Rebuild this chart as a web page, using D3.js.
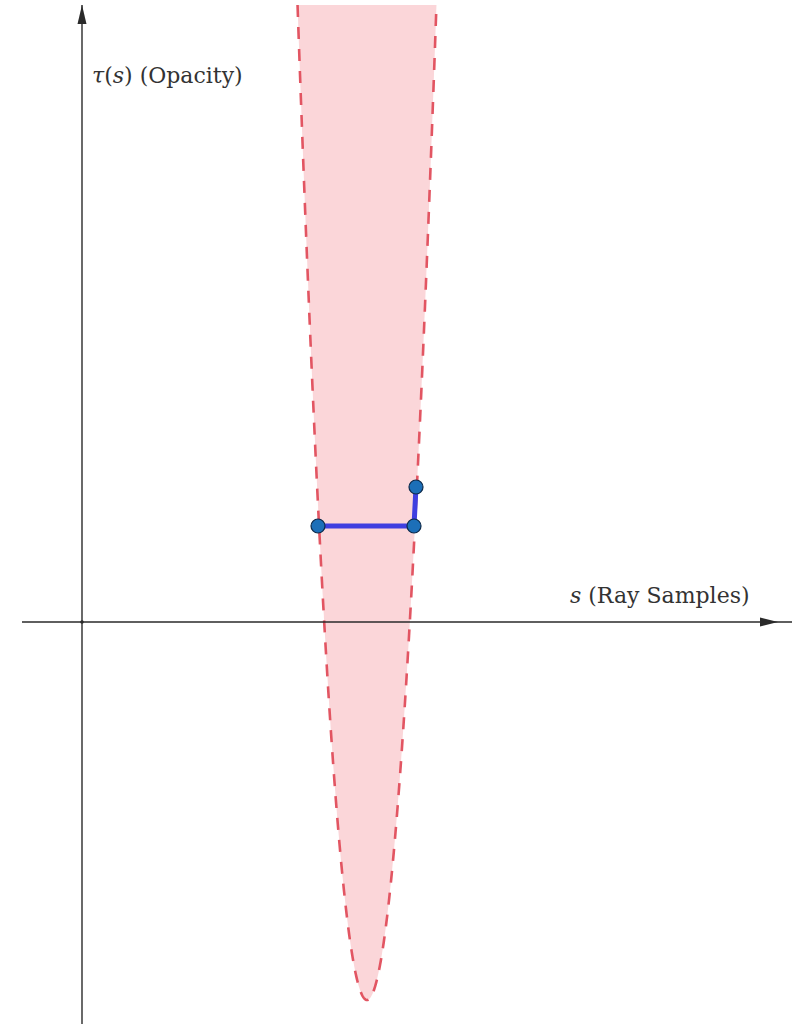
<!DOCTYPE html>
<html>
<head>
<meta charset="utf-8">
<script src="https://cdn.jsdelivr.net/npm/d3@7"></script>
<style>
  html, body { margin: 0; padding: 0; background: #fff; }
  svg { display: block; }
</style>
</head>
<body>
<svg id="chart" width="797" height="1024"></svg>
<script>
// Opacity curve tau(s) = a * (s - h)^2 + k, shown as a shaded band
const curveVertex = [7.125, -9.45];   // (h, k)
const curveCoeff = [8.25];            // a
const curveTop = [15.425];            // upper cut of the shaded band

// Sample points on the curve joined by the blue step
const sampleS = [5.9, 8.3, 8.35];
const sampleTau = [2.4, 2.4, 3.375];

const W = 797, H = 1024;
const svg = d3.select("#chart");

const x = d3.scaleLinear().domain([-1.55, 17.75]).range([20, 792]);
const y = d3.scaleLinear().domain([-10.05, 15.55]).range([1024, 0]);

const [h, k] = curveVertex;
const a = curveCoeff[0];
const half = Math.sqrt((curveTop[0] - k) / a);
const curvePts = d3.range(0, 401).map(i => {
  const s = h - half + (2 * half) * i / 400;
  return [s, a * (s - h) * (s - h) + k];
});

const line = d3.line().x(d => x(d[0])).y(d => y(d[1]));

// Shaded region inside the parabola
svg.append("path")
  .attr("d", line(curvePts) + "Z")
  .attr("fill", "#fbd6d9")
  .attr("stroke", "none");

// Dashed boundary
svg.append("path")
  .attr("d", line(curvePts))
  .attr("fill", "none")
  .attr("stroke", "#e25562")
  .attr("stroke-width", 2.6)
  .attr("stroke-dasharray", "12,10");

// Axes
const axisColor = "#2a2a2a";
const x0 = x(0), y0 = y(0);
svg.append("line")
  .attr("x1", x(-1.5)).attr("y1", y0).attr("x2", 792).attr("y2", y0)
  .attr("stroke", axisColor).attr("stroke-width", 1.4);
svg.append("line")
  .attr("x1", x0).attr("y1", H).attr("x2", x0).attr("y2", 5)
  .attr("stroke", axisColor).attr("stroke-width", 1.4);

// Arrowheads
const ax = 778;
svg.append("path")
  .attr("d", `M${ax},${y0} L${ax - 18},${y0 - 4.5} L${ax - 18},${y0 + 4.5} Z`)
  .attr("fill", axisColor);
svg.append("path")
  .attr("d", `M${x0},5 L${x0 - 4.5},24 L${x0 + 4.5},24 Z`)
  .attr("fill", axisColor);

// Origin dot
svg.append("circle").attr("cx", x0).attr("cy", y0).attr("r", 1.8).attr("fill", axisColor);

// Axis labels
const font = "'DejaVu Serif', serif";
const tLab = svg.append("text")
  .attr("x", 92).attr("y", 83)
  .attr("font-family", font).attr("font-size", 22).attr("fill", "#333");
tLab.append("tspan").attr("font-style", "italic").text("τ");
tLab.append("tspan").text("(");
tLab.append("tspan").attr("font-style", "italic").text("s");
tLab.append("tspan").text(") (Opacity)");

const sLab = svg.append("text")
  .attr("x", 570).attr("y", 603)
  .attr("font-family", font).attr("font-size", 22).attr("fill", "#333");
sLab.append("tspan").attr("font-style", "italic").text("s");
sLab.append("tspan").text(" (Ray Samples)");

// Blue step between sample points
const pts = sampleS.map((s, i) => [s, sampleTau[i]]);
svg.append("path")
  .attr("d", line(pts))
  .attr("fill", "none")
  .attr("stroke", "#3f3fe0")
  .attr("stroke-width", 5)
  .attr("stroke-linejoin", "round");

svg.selectAll("circle.pt")
  .data(pts)
  .join("circle")
  .attr("class", "pt")
  .attr("cx", d => x(d[0]))
  .attr("cy", d => y(d[1]))
  .attr("r", 7)
  .attr("fill", "#1c6fb8")
  .attr("stroke", "#0d2a4a")
  .attr("stroke-width", 1.2);
</script>
</body>
</html>
